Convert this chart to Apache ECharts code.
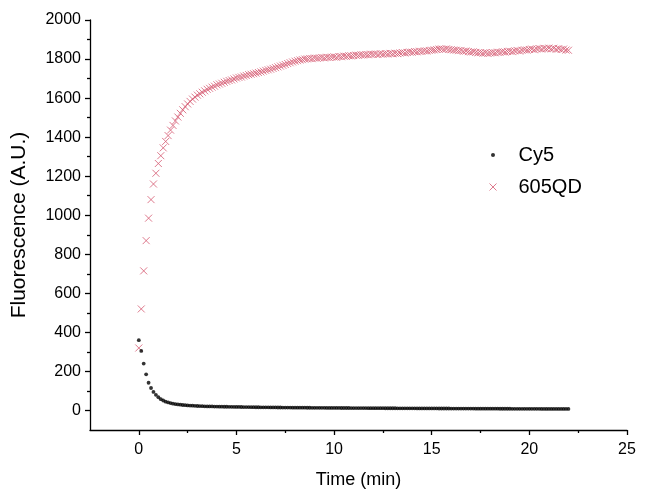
<!DOCTYPE html>
<html>
<head>
<meta charset="utf-8">
<script src="https://cdn.jsdelivr.net/npm/echarts@6/dist/echarts.min.js"></script>
<style>html,body{margin:0;padding:0;background:#fff;}#c{width:655px;height:494px;}</style>
</head>
<body>
<div id="c"></div>
<script>
// Time (min), sampled every 0.125 min
const time = [
0,0.125,0.25,0.375,0.5,0.625,0.75,0.875,
1,1.125,1.25,1.375,1.5,1.625,1.75,1.875,
2,2.125,2.25,2.375,2.5,2.625,2.75,2.875,
3,3.125,3.25,3.375,3.5,3.625,3.75,3.875,
4,4.125,4.25,4.375,4.5,4.625,4.75,4.875,
5,5.125,5.25,5.375,5.5,5.625,5.75,5.875,
6,6.125,6.25,6.375,6.5,6.625,6.75,6.875,
7,7.125,7.25,7.375,7.5,7.625,7.75,7.875,
8,8.125,8.25,8.375,8.5,8.625,8.75,8.875,
9,9.125,9.25,9.375,9.5,9.625,9.75,9.875,
10,10.125,10.25,10.375,10.5,10.625,10.75,10.875,
11,11.125,11.25,11.375,11.5,11.625,11.75,11.875,
12,12.125,12.25,12.375,12.5,12.625,12.75,12.875,
13,13.125,13.25,13.375,13.5,13.625,13.75,13.875,
14,14.125,14.25,14.375,14.5,14.625,14.75,14.875,
15,15.125,15.25,15.375,15.5,15.625,15.75,15.875,
16,16.125,16.25,16.375,16.5,16.625,16.75,16.875,
17,17.125,17.25,17.375,17.5,17.625,17.75,17.875,
18,18.125,18.25,18.375,18.5,18.625,18.75,18.875,
19,19.125,19.25,19.375,19.5,19.625,19.75,19.875,
20,20.125,20.25,20.375,20.5,20.625,20.75,20.875,
21,21.125,21.25,21.375,21.5,21.625,21.75,21.875,
22
];
const cy5 = [
360,305,240,185,142,115,95,80,
68,58,51,45,41,38,35,33,
31,29.5,28,27,26,25,24.5,24,
23,22.5,22,21.5,21,20.8,20.5,20.2,
20,19.7,19.5,19.2,19,18.8,18.6,18.4,
18.2,18,17.8,17.6,17.4,17.2,17,16.8,
16.6,16.5,16.3,16.2,16,15.9,15.7,15.6,
15.5,15.3,15.2,15.1,15,14.9,14.7,14.6,
14.5,14.4,14.3,14.2,14.1,14,13.9,13.8,
13.7,13.6,13.5,13.4,13.4,13.3,13.2,13.1,
13,12.9,12.9,12.8,12.7,12.6,12.6,12.5,
12.4,12.3,12.3,12.2,12.1,12.1,12,11.9,
11.9,11.8,11.7,11.7,11.6,11.5,11.5,11.4,
11.3,11.3,11.2,11.1,11.1,11,11,10.9,
10.8,10.8,10.7,10.7,10.6,10.5,10.5,10.4,
10.4,10.3,10.3,10.2,10.1,10.1,10,10,
9.9,9.9,9.8,9.8,9.7,9.7,9.6,9.6,
9.5,9.5,9.4,9.4,9.3,9.3,9.2,9.2,
9.1,9.1,9,9,8.9,8.9,8.9,8.8,
8.8,8.7,8.7,8.6,8.6,8.6,8.5,8.5,
8.4,8.4,8.4,8.3,8.3,8.2,8.2,8.2,
8.1,8.1,8.1,8,8,8,7.9,7.9,
7.9
];
const qd605 = [
320,520,715,870,985,1080,1160,1215,
1265,1305,1345,1378,1408,1436,1460,1483,
1503,1522,1540,1556,1570,1583,1595,1605,
1615,1622,1630,1637,1645,1650,1656,1661,
1668,1672,1676,1681,1686,1690,1693,1698,
1703,1706,1708,1713,1716,1720,1722,1725,
1728,1731,1734,1738,1742,1745,1748,1752,
1756,1760,1764,1768,1772,1777,1781,1785,
1789,1792,1795,1797,1800,1801,1803,1802,
1805,1804,1806,1808,1806,1809,1808,1810,
1811,1809,1813,1812,1815,1814,1817,1816,
1818,1820,1819,1822,1821,1823,1822,1825,
1824,1826,1823,1827,1825,1828,1826,1829,
1827,1830,1828,1831,1833,1831,1834,1836,
1835,1838,1837,1840,1839,1842,1841,1844,
1845,1847,1849,1851,1852,1850,1852,1849,
1848,1846,1845,1843,1844,1840,1841,1838,
1836,1837,1834,1832,1833,1830,1832,1829,
1831,1833,1832,1835,1834,1837,1836,1839,
1840,1838,1842,1844,1841,1845,1847,1846,
1849,1851,1848,1852,1854,1851,1855,1853,
1856,1852,1855,1850,1853,1849,1851,1846,
1845
];
const seriesNames = ['Cy5', '605QD'];
const xMajor = [0, 5, 10, 15, 20, 25];
const xMinor = [2.5, 7.5, 12.5, 17.5, 22.5];
const yMajor = [0, 200, 400, 600, 800, 1000, 1200, 1400, 1600, 1800, 2000];
const yMinor = [100, 300, 500, 700, 900, 1100, 1300, 1500, 1700, 1900];

const FONT = 'Liberation Sans, Arial, sans-serif';
const QD_COLOR = '#d65a72';
const CROSS = 'path://M0,0L10,10M10,0L0,10';
const DOT_ICON = 'path://M0,0M7,7M3.5,3.5m-2,0a2,2 0 1,0 4,0a2,2 0 1,0 -4,0';

const pairs = (xs, ys) => xs.map((x, i) => [x, ys[i]]);

const chart = echarts.init(document.getElementById('c'), null, {renderer: 'canvas'});
const lineOn = {show: true, onZero: false, lineStyle: {color: '#000', width: 1.3}};
const lineOff = {show: false, onZero: false};
chart.setOption({
  animation: false,
  backgroundColor: '#fff',
  grid: {left: 90, right: 28, top: 20, bottom: 61, containLabel: false},
  legend: {
    orient: 'vertical',
    left: 484,
    top: 140,
    itemWidth: 7,
    itemHeight: 7,
    itemGap: 12,
    textStyle: {fontFamily: FONT, fontSize: 20, color: '#000', padding: [0, 0, 0, 17]},
    data: [
      {name: 'Cy5', icon: DOT_ICON, itemStyle: {color: '#000', borderWidth: 0}},
      {name: '605QD', icon: CROSS, itemStyle: {color: 'transparent', borderColor: QD_COLOR, borderWidth: 1}}
    ]
  },
  xAxis: [
    {
      type: 'value', min: -2.5, max: 25, position: 'bottom', splitLine: {show: false},
      axisLine: lineOn,
      name: 'Time (min)', nameLocation: 'middle', nameGap: 41,
      nameTextStyle: {fontFamily: FONT, fontSize: 18, color: '#000'},
      axisTick: {show: true, inside: false, length: 5, customValues: xMajor, lineStyle: {color: '#000', width: 1.3}},
      axisLabel: {customValues: xMajor, margin: 12, fontFamily: FONT, fontSize: 16, color: '#000', formatter: v => String(v)}
    },
    {
      type: 'value', min: -2.5, max: 25, position: 'bottom', splitLine: {show: false},
      axisLine: lineOff,
      axisTick: {show: true, inside: false, length: 3, customValues: xMinor, lineStyle: {color: '#000', width: 1.3}},
      axisLabel: {show: false}
    }
  ],
  yAxis: [
    {
      type: 'value', min: -100, max: 2000, position: 'left', splitLine: {show: false},
      axisLine: lineOn,
      name: 'Fluorescence (A.U.)', nameLocation: 'middle', nameGap: 60,
      nameTextStyle: {fontFamily: FONT, fontSize: 21, color: '#000'},
      axisTick: {show: true, inside: false, length: 5, customValues: yMajor, lineStyle: {color: '#000', width: 1.3}},
      axisLabel: {customValues: yMajor, margin: 9, fontFamily: FONT, fontSize: 16, color: '#000', formatter: v => String(v)}
    },
    {
      type: 'value', min: -100, max: 2000, position: 'left', splitLine: {show: false},
      axisLine: lineOff,
      axisTick: {show: true, inside: false, length: 3, customValues: yMinor, lineStyle: {color: '#000', width: 1.3}},
      axisLabel: {show: false}
    }
  ],
  series: [
    {
      name: seriesNames[0], type: 'scatter', xAxisIndex: 0, yAxisIndex: 0,
      symbol: 'circle', symbolSize: 3.8,
      itemStyle: {color: '#000'},
      data: pairs(time, cy5), z: 3
    },
    {
      name: seriesNames[1], type: 'scatter', xAxisIndex: 0, yAxisIndex: 0,
      symbol: CROSS, symbolSize: 7,
      itemStyle: {color: 'transparent', borderColor: QD_COLOR, borderWidth: 1},
      data: pairs(time, qd605), z: 2
    }
  ]
});
</script>
</body>
</html>
